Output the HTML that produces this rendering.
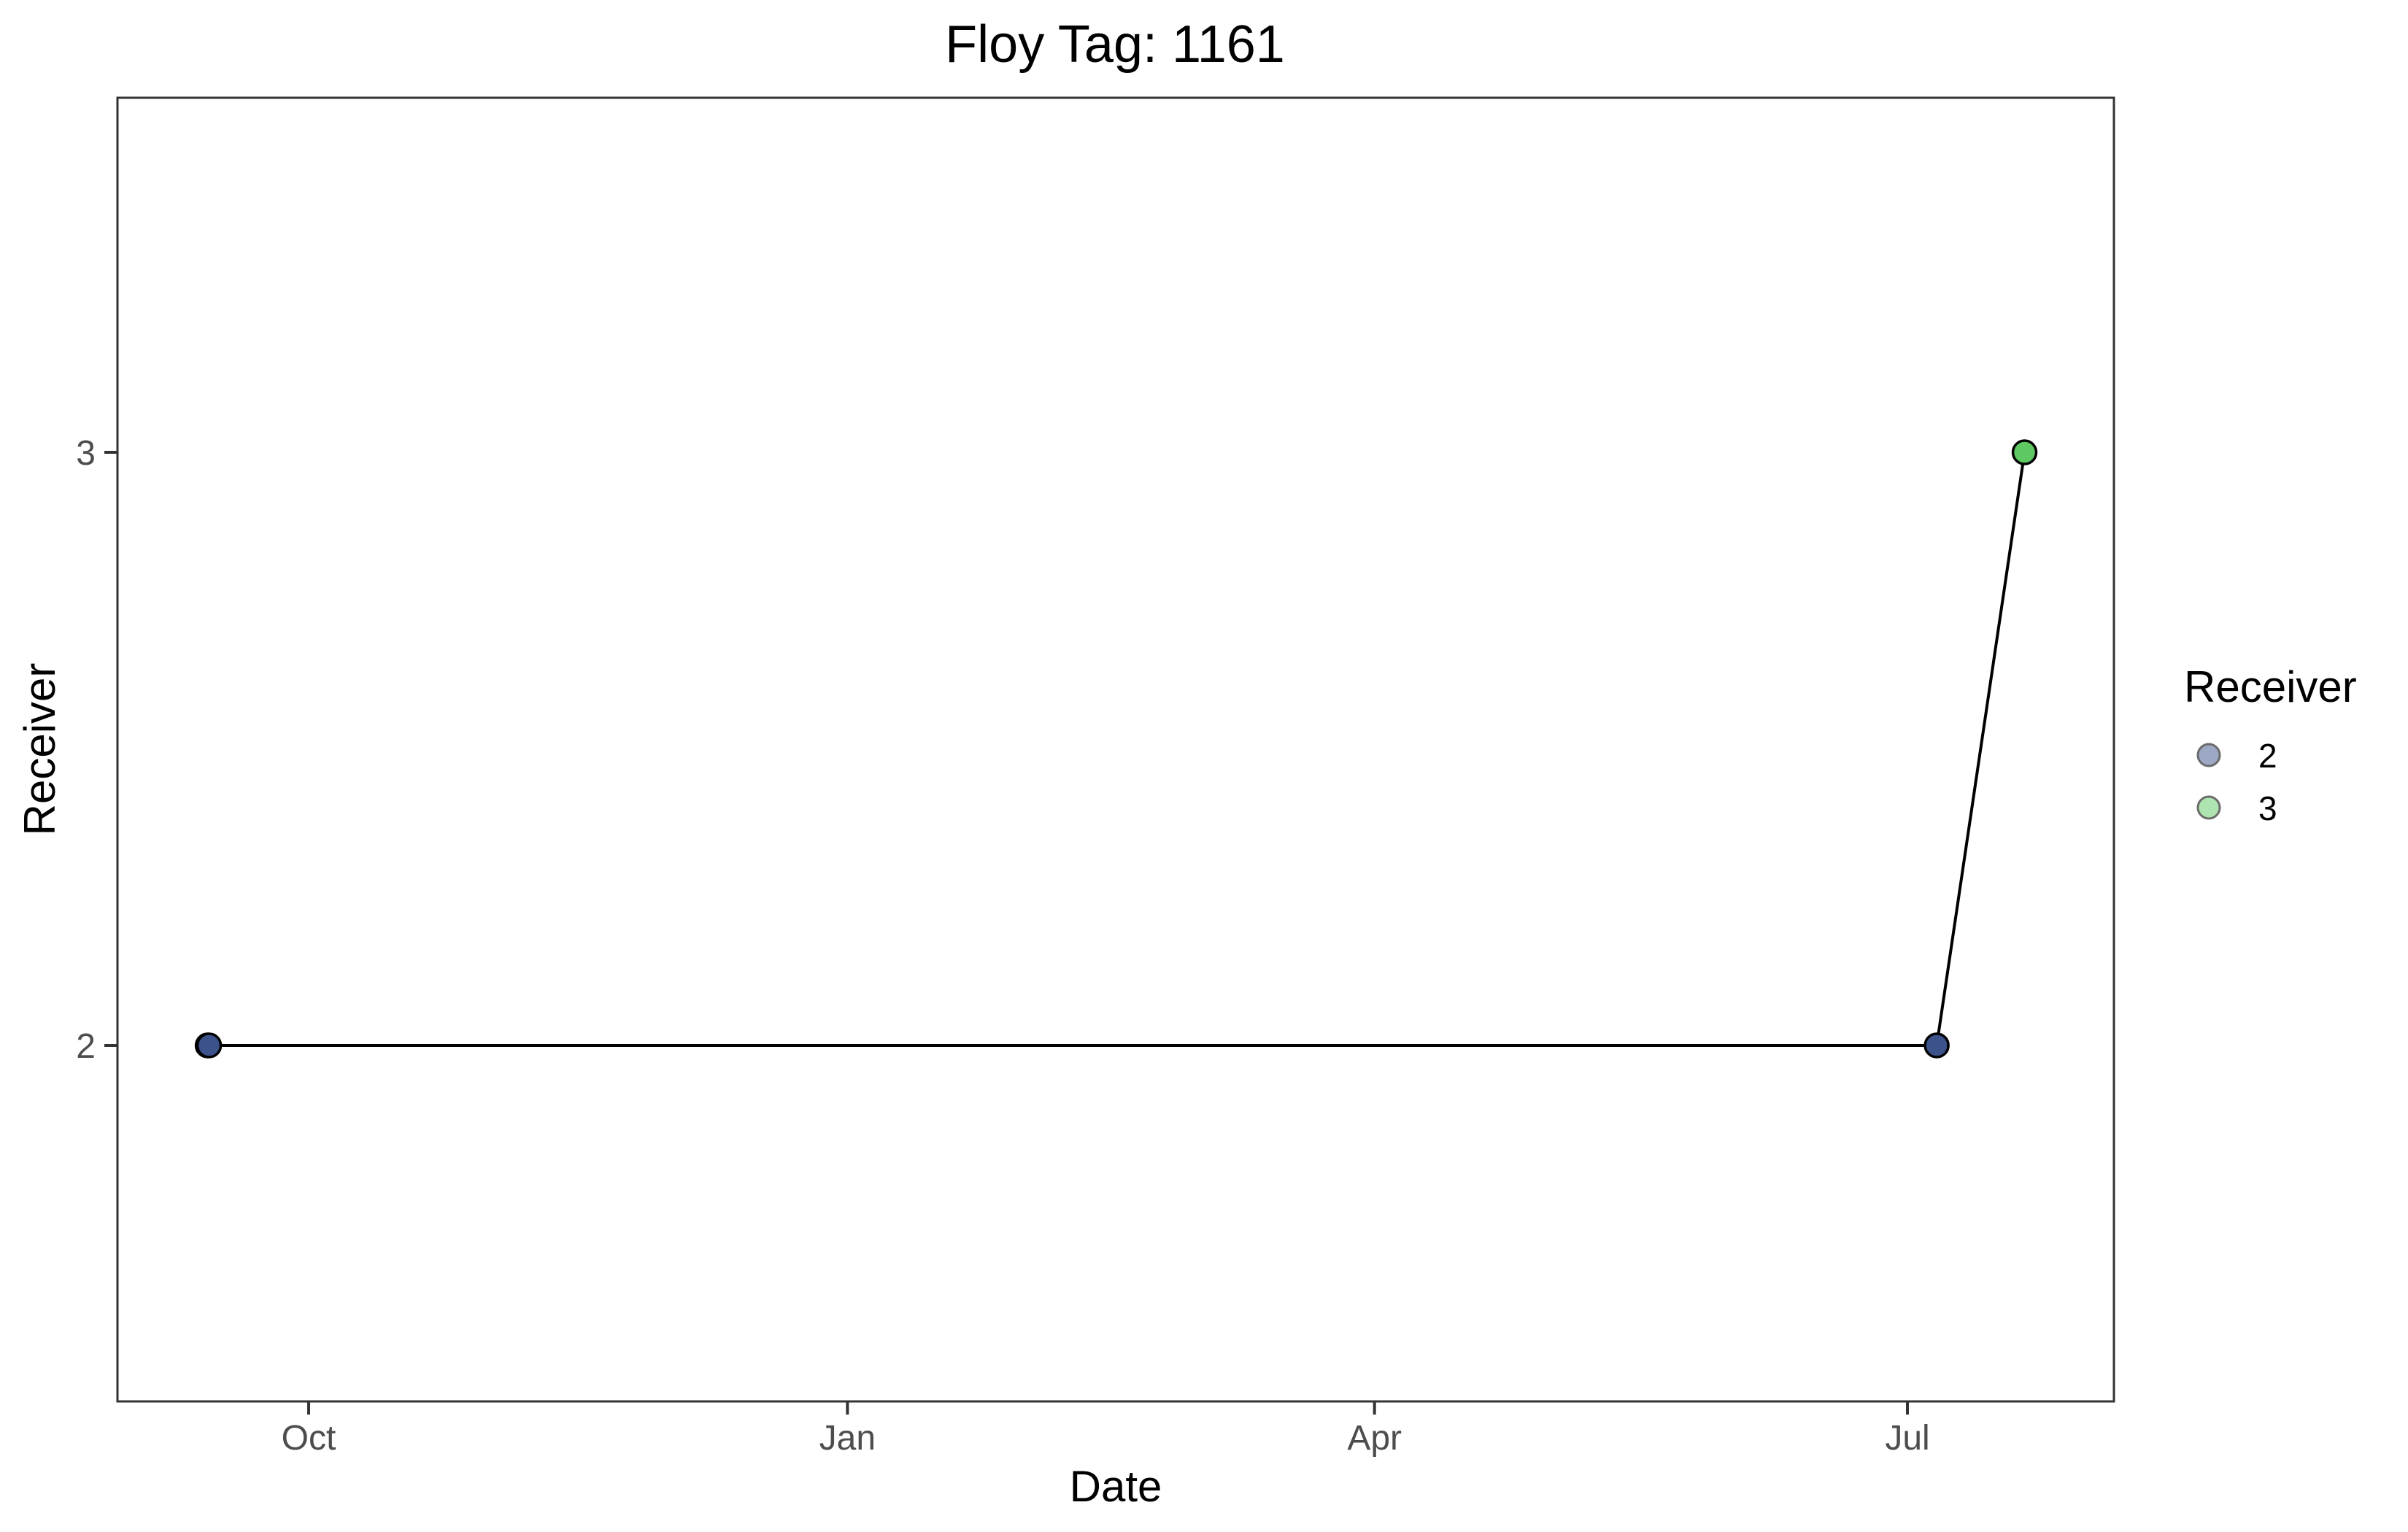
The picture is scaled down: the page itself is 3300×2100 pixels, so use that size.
<!DOCTYPE html>
<html><head><meta charset="utf-8"><style>
html,body{margin:0;padding:0;background:#fff;}
svg{display:block;font-family:"Liberation Sans",Arial,sans-serif;}
</style></head><body>
<svg id="chart" width="3300" height="2100" viewBox="0 0 3300 2100" xmlns="http://www.w3.org/2000/svg">
<rect x="0" y="0" width="3300" height="2100" fill="#fff"/>
<text x="1528" y="85" font-size="72" text-anchor="middle" fill="#000">Floy Tag: 1161</text>
<g id="plot"></g>
<rect x="161" y="134" width="2736" height="1787" fill="none" stroke="#333" stroke-width="3"/>
<g id="xaxis"></g>
<g id="yaxis"></g>
<text x="1529" y="2058" font-size="60" text-anchor="middle" fill="#000">Date</text>
<text transform="translate(75,1027) rotate(-90)" font-size="60" text-anchor="middle" fill="#000">Receiver</text>
<g>
<text x="2993" y="962" font-size="60" fill="#000">Receiver</text>
<g id="legend-items"></g>
</g>
</svg>
<script>
const dates = ["2020-09-13T18:00","2020-09-14T00:00","2021-07-06T00:00","2021-07-21T00:00"];
const receivers = [2, 2, 2, 3];
const xTickLabels = ["Oct","Jan","Apr","Jul"];
const xTickDates = ["2020-10-01T00:00","2021-01-01T00:00","2021-04-01T00:00","2021-07-01T00:00"];
const yTickValues = [2, 3];
const legendValues = [2, 3];

const NS = "http://www.w3.org/2000/svg";
const colorFill = {2:"#3b528b",3:"#5ec962"};
const legendFill = {2:"#9da8c5",3:"#aee4b0"};
function ms(d){return Date.parse(d+":00Z");}
const x0 = ms("2020-10-01T00:00"), x1 = ms("2021-07-01T00:00");
function xScale(d){return 423 + (ms(d)-x0)/(x1-x0)*(2614-423);}
function yScale(v){return 1433 - (v-2)*(1433-620);}
function mk(tag, attrs, parent){const e=document.createElementNS(NS,tag);for(const k in attrs)e.setAttribute(k,attrs[k]);parent.appendChild(e);return e;}

const plot = document.getElementById("plot");
const pts = dates.map((d,i)=>xScale(d)+","+yScale(receivers[i])).join(" ");
const line = mk("polyline",{points:pts,fill:"none",stroke:"#000","stroke-width":4},plot);


dates.forEach((d,i)=>{
  const c = mk("circle",{cx:xScale(d),cy:yScale(receivers[i]),r:16,fill:colorFill[receivers[i]],stroke:"#000","stroke-width":3.5},plot);
  
  
});

const xa = document.getElementById("xaxis");
xTickDates.forEach((d,i)=>{
  const x = xScale(d);
  const t = mk("line",{x1:x,x2:x,y1:1921,y2:1939,stroke:"#333","stroke-width":4},xa);
  
  
  const l = mk("text",{x:x,y:1987,"font-size":48,"text-anchor":"middle",fill:"#4d4d4d"},xa);
  l.textContent = xTickLabels[i];
  
  
});
const ya = document.getElementById("yaxis");
yTickValues.forEach(v=>{
  const y = yScale(v);
  const t = mk("line",{x1:143,x2:161,y1:y,y2:y,stroke:"#333","stroke-width":4},ya);
  
  
  const l = mk("text",{x:131,y:y+17,"font-size":48,"text-anchor":"end",fill:"#4d4d4d"},ya);
  l.textContent = String(v);
  
  
});
const lg = document.getElementById("legend-items");
legendValues.forEach((v,i)=>{
  const cy = 1035 + i*72;
  const c = mk("circle",{cx:3027,cy:cy,r:15,fill:legendFill[v],stroke:"#6b6b6b","stroke-width":3},lg);
  
  
  const l = mk("text",{x:3095,y:cy+17,"font-size":46,fill:"#000"},lg);
  l.textContent = String(v);
  
  
});
</script>
</body></html>
